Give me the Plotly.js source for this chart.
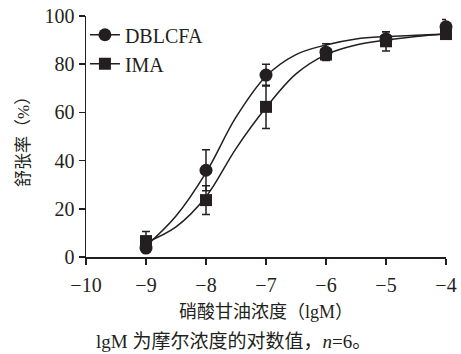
<!DOCTYPE html>
<html>
<head>
<meta charset="utf-8">
<script src="https://cdn.plot.ly/plotly-3.0.1.min.js"></script>
<style>html,body{margin:0;padding:0;background:#fff;}#chart{width:461px;height:354px;}</style>
</head>
<body>
<div id="chart"></div>
<script>
// Data points (lg M concentration of nitroglycerin)
const conc = [-9, -8, -7, -6, -5, -4];
const dblcfa = [3.7, 36, 75.5, 85, 90.5, 95.5];
const dblcfaErr = [1, 8.5, 4.5, 3.5, 3, 3];
const ima = [6.6, 23.6, 62.3, 84, 89.5, 92.5];
const imaErr = [4, 6, 9, 2, 4, 1];

// Fitted curves
const curveX = [-9, -8.5, -8, -7.5, -7, -6.5, -6, -5.5, -5, -4.5, -4];
const dblcfaCurve = [4.5, 17, 35, 58, 75, 84, 88, 90.5, 91.5, 92, 92.5];
const imaCurve = [6, 12.5, 25, 45, 62, 76, 84, 88, 90, 91.5, 92.5];

const xTicks = [-10, -9, -8, -7, -6, -5, -4];
const yTicks = [0, 20, 40, 60, 80, 100];
const names = ['DBLCFA', 'IMA'];

const ink = '#231f20';
const serif = '"Liberation Serif", "Noto Sans CJK SC", serif';

const traces = [
  {x: curveX, y: dblcfaCurve, mode: 'lines', line: {color: ink, width: 1.5, shape: 'spline'}, showlegend: false, hoverinfo: 'skip'},
  {x: curveX, y: imaCurve, mode: 'lines', line: {color: ink, width: 1.5, shape: 'spline'}, showlegend: false, hoverinfo: 'skip'},
  {x: conc, y: ima, mode: 'markers', marker: {symbol: 'square', size: 12, color: ink},
   error_y: {type: 'data', array: imaErr, visible: true, color: ink, thickness: 1.5, width: 4}, showlegend: false, cliponaxis: false},
  {x: conc, y: dblcfa, mode: 'markers', marker: {symbol: 'circle', size: 13, color: ink},
   error_y: {type: 'data', array: dblcfaErr, visible: true, color: ink, thickness: 1.5, width: 4}, showlegend: false, cliponaxis: false},
  {x: [null], y: [null], name: names[0], mode: 'lines+markers', line: {color: ink, width: 1.5}, marker: {symbol: 'circle', size: 13, color: ink}},
  {x: [null], y: [null], name: names[1], mode: 'lines+markers', line: {color: ink, width: 1.5}, marker: {symbol: 'square', size: 12, color: ink}}
];

const layout = {
  width: 461, height: 354,
  margin: {l: 86, r: 15, t: 16, b: 97},
  paper_bgcolor: '#fff', plot_bgcolor: '#fff',
  font: {family: serif, color: ink, size: 20},
  showlegend: true,
  legend: {x: -0.003, y: 1.003, xanchor: 'left', yanchor: 'top', font: {family: serif, size: 20, color: ink}, bgcolor: 'rgba(0,0,0,0)', tracegroupgap: 0},
  xaxis: {range: [-10, -4], tickvals: xTicks, ticktext: xTicks.map(v => v < 0 ? '\u2212' + Math.abs(v) : String(v)),
    showline: true, linecolor: ink, linewidth: 1.5, ticks: 'outside', ticklen: 6, tickwidth: 1.5, tickcolor: ink,
    showgrid: false, zeroline: false, tickfont: {family: serif, size: 20, color: ink}, ticklabelstandoff: 3},
  yaxis: {range: [0, 100], tickvals: yTicks, showline: true, linecolor: ink, linewidth: 1.5, ticks: 'outside', ticklen: 6, tickwidth: 1.5, tickcolor: ink,
    showgrid: false, zeroline: false, tickfont: {family: serif, size: 20, color: ink}},
  annotations: [
    {text: '硝酸甘油浓度（lgM）', xref: 'paper', yref: 'paper', x: 0.499, y: -0.228, xanchor: 'center', yanchor: 'middle', showarrow: false, font: {family: serif, size: 18, color: ink}},
    {text: 'lgM 为摩尔浓度的对数值，<i>n</i>=6。', xref: 'paper', yref: 'paper', x: 0.411, y: -0.349, xanchor: 'center', yanchor: 'middle', showarrow: false, font: {family: serif, size: 19, color: ink}},
    {text: '舒张率（%）', xref: 'paper', yref: 'paper', x: -0.172, y: 0.494, xanchor: 'center', yanchor: 'middle', textangle: -90, showarrow: false, font: {family: serif, size: 17, color: ink}}
  ]
};

Plotly.newPlot('chart', traces, layout, {displayModeBar: false, staticPlot: true});
</script>
</body>
</html>
